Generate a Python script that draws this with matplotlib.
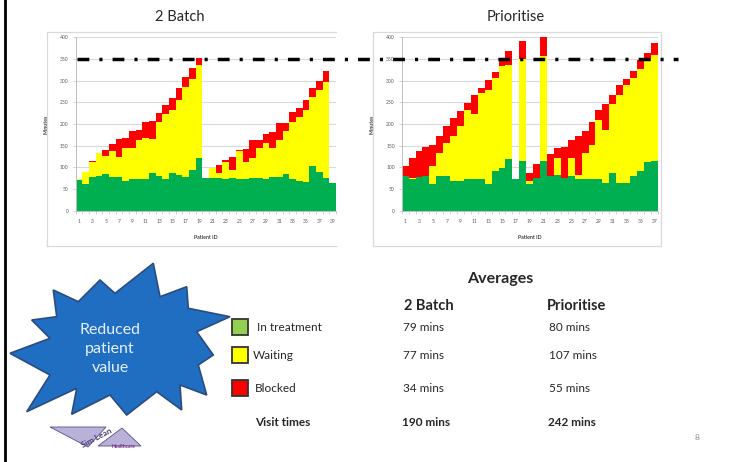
import matplotlib
matplotlib.use("Agg")
import matplotlib.pyplot as plt
import numpy as np
from matplotlib.patches import Polygon, Rectangle
from matplotlib.lines import Line2D
from matplotlib.transforms import Affine2D, blended_transform_factory, Bbox, TransformedBbox

plt.rcParams['font.family'] = ['Lato', 'DejaVu Sans']

# ---------------- data ----------------
chart_titles = ["2 Batch", "Prioritise"]
threshold = 350

batch_treatment = [71, 61, 78, 81, 84, 77, 77, 68, 73, 73, 73, 86, 81, 73, 88, 82, 78, 95, 121,
                   76, 75, 75, 72, 76, 73, 72, 75, 75, 73, 77, 78, 84, 73, 68, 67, 102, 90, 76, 63]
batch_waiting = [3, 29, 35, 53, 42, 61, 48, 76, 71, 90, 94, 79, 124, 149, 144, 173, 208, 208, 215,
                 0, 23, 11, 41, 18, 65, 41, 46, 69, 84, 67, 85, 100, 132, 149, 165, 161, 188, 220, 0]
batch_blocked = [0, 0, 2, 0, 15, 17, 40, 23, 40, 23, 37, 43, 20, 22, 29, 27, 22, 27, 16,
                 0, 0, 19, 4, 29, 2, 29, 41, 19, 21, 38, 39, 18, 22, 21, 23, 19, 21, 26, 0]

prio_treatment = [81, 72, 78, 79, 62, 79, 81, 69, 69, 72, 72, 73, 62, 91, 98, 119, 73, 114, 62,
                  75, 115, 81, 82, 75, 79, 73, 73, 73, 73, 64, 87, 65, 64, 79, 91, 112, 114]
prio_waiting = [0, 3, 0, 0, 40, 53, 75, 104, 126, 161, 150, 199, 217, 215, 235, 218, 0, 236, 6,
                0, 243, 0, 40, 0, 43, 10, 60, 79, 137, 123, 158, 203, 227, 227, 236, 233, 246]
prio_blocked = [23, 47, 59, 68, 50, 41, 39, 41, 34, 15, 46, 11, 23, 13, 17, 31, 0, 41, 19,
                33, 42, 49, 23, 73, 42, 89, 50, 52, 22, 58, 23, 23, 13, 16, 21, 19, 27]

y_ticks = list(range(0, 401, 50))
x_label = "Patient ID"
y_label = "Minutes"

avg_title = "Averages"
avg_cols = ["2 Batch", "Prioritise"]
avg_rows = ["In treatment", "Waiting", "Blocked"]
avg_batch = ["79 mins", "77 mins", "34 mins"]
avg_prio = ["80 mins", "107 mins", "55 mins"]
visit_label = "Visit times"
visit_batch = "190 mins"
visit_prio = "242 mins"
star_text = "Reduced\npatient\nvalue"

GREEN, YELLOW, RED = '#00B050', '#FFFF00', '#FF0000'

# ---------------- figure ----------------
W, H = 736, 462
fig = plt.figure(figsize=(W / 100, H / 100), dpi=100)
px = Affine2D().scale(1 / W, -1 / H).translate(0, 1) + fig.transFigure


def rect(x0, y0, x1, y1):
    return [x0 / W, 1 - y1 / H, (x1 - x0) / W, (y1 - y0) / H]


def draw_chart(ax, t, w, b, xmax, ticks):
    x = np.arange(1, len(t) + 1)
    t = np.array(t); w = np.array(w); b = np.array(b)
    kw = dict(width=1.0, linewidth=0, antialiased=False, zorder=2)
    ax.bar(x, t, color=GREEN, **kw)
    ax.bar(x, w, bottom=t, color=YELLOW, **kw)
    ax.bar(x, b, bottom=t + w, color=RED, **kw)
    ax.set_xlim(0.5, xmax)
    ax.set_ylim(0, 400)
    ax.set_yticks(y_ticks)
    ax.set_xticks(ticks)
    ax.set_xticks(np.arange(0.5, len(t) + 1, 1), minor=True)
    ax.yaxis.grid(True, color='#D9D9D9', lw=0.8)
    ax.set_axisbelow(True)
    for s in ['top', 'right']:
        ax.spines[s].set_visible(False)
    ax.spines['left'].set_color('#BFBFBF')
    ax.spines['bottom'].set_color('#BFBFBF')
    ax.spines['left'].set_linewidth(0.7)
    ax.spines['bottom'].set_linewidth(0.7)
    ax.tick_params(axis='both', labelsize=3.6, colors='#BFBFBF', labelcolor='#595959',
                   length=2, width=0.5)
    ax.tick_params(axis='x', which='major', length=0, pad=6)
    ax.tick_params(axis='x', which='minor', length=2, width=0.5, colors='#BFBFBF')
    ax.tick_params(axis='y', pad=3)
    ax.set_xlabel(x_label, fontsize=3.8, color='#404040', labelpad=8, fontweight='bold')
    ax.set_ylabel(y_label, fontsize=3.8, color='#404040', labelpad=8, fontweight='bold')


ax1 = fig.add_axes(rect(75.6, 37.3, 336, 210.7))
draw_chart(ax1, batch_treatment, batch_waiting, batch_blocked, 39.0, list(range(1, 40, 2)))
clipbox = TransformedBbox(Bbox([[0, 0], [336 / W, 1]]), fig.transFigure)
for tk in ax1.xaxis.get_major_ticks():
    tk.label1.set_clip_box(clipbox)
    tk.label1.set_clip_on(True)

ax2 = fig.add_axes(rect(401.7, 37.3, 657.7, 210.7))
draw_chart(ax2, prio_treatment, prio_waiting, prio_blocked, 37.5, list(range(1, 38, 2)))

# chart frames
frame = '#D9D9D9'
for seg in [((47, 31.5), (336, 31.5)), ((47, 31.5), (47, 245.5)), ((47, 245.5), (336, 245.5))]:
    fig.add_artist(Line2D([seg[0][0], seg[1][0]], [seg[0][1], seg[1][1]], transform=px,
                          color=frame, lw=0.9))
fig.add_artist(Rectangle((373, 31.5), 288, 214, transform=px, fill=False, edgecolor=frame, lw=0.9))

# titles
fig.text(180 / W, 1 - 17 / H, chart_titles[0], ha='center', va='center', fontsize=10.5, color='#262626')
fig.text(516 / W, 1 - 17 / H, chart_titles[1], ha='center', va='center', fontsize=10.5, color='#262626')

# threshold line across both charts
bt = blended_transform_factory(fig.transFigure, ax1.transData)
fig.add_artist(Line2D([77 / W, 678 / W], [threshold, threshold], transform=bt, color='black',
                      lw=2.5, linestyle=(0, (3.4, 2.9, 0.9, 2.9)), zorder=10))

# left border line
fig.add_artist(Line2D([5.3, 5.3], [0, 462], transform=px, color='black', lw=2.0))

# ---------------- starburst ----------------
star = [(53.3, 290), (78.3, 301.7), (100, 280), (115, 293.3), (153.3, 263.3), (160, 296.7),
        (186.7, 286.7), (188.3, 308.3), (230, 316.7), (196.7, 331.7), (213.3, 355), (198.3, 365),
        (206.7, 395), (180, 385), (181.7, 410), (156.7, 391.7), (126.7, 415), (110, 395),
        (71.7, 414.3), (76.7, 388.3), (26.7, 411.7), (50, 375), (10, 353.3), (50, 338.3),
        (31.7, 320), (56.7, 316.7)]
fig.add_artist(Polygon(star, closed=True, transform=px, facecolor='#1F6EC1',
                       edgecolor='#2B4C7E', lw=1.2))
fig.text(110 / W, 1 - 349 / H, star_text, ha='center', va='center', fontsize=11.5,
         color='#E6F0FF', linespacing=1.45)

# logo
fig.add_artist(Polygon([(50, 427), (106, 427), (88, 447)], closed=True, transform=px,
                       facecolor='#B9B1D8', edgecolor='#5A4E8C', lw=0.6))
fig.add_artist(Polygon([(98, 446), (122, 428), (141, 446)], closed=True, transform=px,
                       facecolor='#B9B1D8', edgecolor='#5A4E8C', lw=0.6))
fig.text(97 / W, 1 - 438 / H, "Sim Lean", rotation=28, ha='center', va='center', fontsize=6,
         color='#4B3D7A', fontweight='bold')
fig.text(124 / W, 1 - 447 / H, "Healthcare", ha='center', va='center', fontsize=3.5,
         color='#7A2E8E', fontweight='bold')

# ---------------- averages table ----------------
fig.text(500 / W, 1 - 279 / H, avg_title, ha='center', va='center', fontsize=11.5,
         fontweight='bold', color='#262626')
fig.text(429 / W, 1 - 306 / H, avg_cols[0], ha='center', va='center', fontsize=10.5,
         fontweight='bold', color='#262626')
fig.text(577 / W, 1 - 306 / H, avg_cols[1], ha='center', va='center', fontsize=10.5,
         fontweight='bold', color='#262626')

row_y = [327.3, 355.7, 388.3]
sq_col = ['#92D050', '#FFFF00', '#FF0000']
lab_x = [257, 253, 255]
for i, name in enumerate(avg_rows):
    y = row_y[i]
    fig.add_artist(Rectangle((232, y - 8.5), 16, 16, transform=px, facecolor=sq_col[i],
                             edgecolor='#333333', lw=1.3))
    fig.text(lab_x[i] / W, 1 - y / H, name, ha='left', va='center', fontsize=8.5, color='#262626')
    fig.text(403 / W, 1 - y / H, avg_batch[i], ha='left', va='center', fontsize=8.5, color='#262626')
    fig.text(549 / W, 1 - y / H, avg_prio[i], ha='left', va='center', fontsize=8.5, color='#262626')

fig.text(255 / W, 1 - 422.3 / H, visit_label, ha='left', va='center', fontsize=8.5,
         fontweight='bold', color='#262626')
fig.text(402 / W, 1 - 422.3 / H, visit_batch, ha='left', va='center', fontsize=8.5,
         fontweight='bold', color='#262626')
fig.text(548 / W, 1 - 422.3 / H, visit_prio, ha='left', va='center', fontsize=8.5,
         fontweight='bold', color='#262626')

fig.text(697 / W, 1 - 437 / H, "8", ha='center', va='center', fontsize=6, color='#8C8C8C')

fig.savefig("out.png", dpi=100)
